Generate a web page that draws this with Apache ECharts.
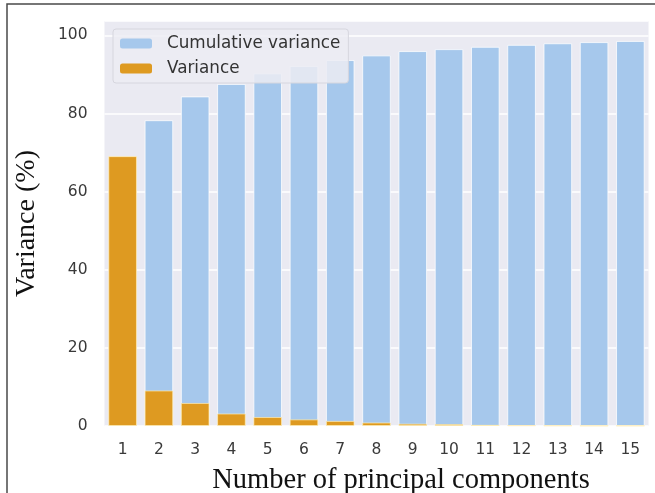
<!DOCTYPE html>
<html>
<head>
<meta charset="utf-8">
<script src="https://cdn.jsdelivr.net/npm/echarts@6/dist/echarts.min.js"></script>
<style>
  html, body { margin: 0; padding: 0; background: #ffffff; }
  #chart { width: 655px; height: 493px; }
</style>
</head>
<body>
<div id="chart"></div>
<script>
// Principal components 1..15
const components = ['1', '2', '3', '4', '5', '6', '7', '8', '9', '10', '11', '12', '13', '14', '15'];
// Cumulative explained variance (%)
const cumulativeVariance = [69.1, 78.3, 84.4, 87.6, 90.3, 92.2, 93.7, 94.9, 96.0, 96.5, 97.1, 97.6, 98.0, 98.3, 98.6];
// Explained variance per component (%)
const componentVariance = [69.1, 9.1, 5.9, 3.2, 2.3, 1.7, 1.3, 0.9, 0.6, 0.5, 0.3, 0.2, 0.15, 0.1, 0.1];
// Y-axis labelled ticks
const yTicks = [0, 20, 40, 60, 80, 100];

const tickFont = 'DejaVu Sans';
const titleFont = '"Liberation Serif", "Times New Roman", serif';

const chart = echarts.init(document.getElementById('chart'), null, { renderer: 'canvas' });

chart.setOption({
  animation: false,
  backgroundColor: '#ffffff',
  graphic: [{
    type: 'rect',
    shape: { x: 7, y: 4, width: 700, height: 540 },
    style: { fill: 'none', stroke: '#4a4a4a', lineWidth: 1.5 },
    z: 100,
    silent: true
  }],
  grid: {
    left: 104.5,
    right: 6.5,
    top: 21,
    bottom: 67,
    outerBoundsMode: 'none',
    containLabel: false,
    show: true,
    backgroundColor: '#EAEAF2',
    borderWidth: 0
  },
  legend: {
    left: 113,
    top: 29,
    orient: 'vertical',
    itemWidth: 32,
    itemHeight: 10,
    itemGap: 8,
    padding: [6, 8, 6, 7],
    backgroundColor: 'rgba(236,236,243,0.85)',
    borderColor: '#d6d6de',
    borderWidth: 1,
    borderRadius: 3,
    textStyle: { fontFamily: tickFont, fontSize: 16.8, color: '#333333', padding: [0, 0, 0, 10] },
    itemStyle: { borderWidth: 0 },
    data: ['Cumulative variance', 'Variance']
  },
  xAxis: {
    type: 'category',
    data: components,
    boundaryGap: true,
    axisLine: { show: false },
    axisTick: { show: false },
    axisLabel: { fontFamily: tickFont, fontSize: 15.5, color: '#3a3a3a', margin: 16 },
    splitLine: { show: false },
    name: 'Number of principal components',
    nameLocation: 'middle',
    nameGap: 40,
    nameTextStyle: { fontFamily: titleFont, fontSize: 28.5, color: '#111111', padding: [0, 0, 0, 49] }
  },
  yAxis: {
    type: 'value',
    min: 0,
    max: 103.7,
    interval: 20,
    axisLine: { show: false },
    axisTick: { show: false },
    axisLabel: {
      fontFamily: tickFont, fontSize: 15.5, color: '#3a3a3a', margin: 17,
      showMaxLabel: false,
      formatter: function (v) { return yTicks.indexOf(v) >= 0 ? String(v) : ''; }
    },
    splitLine: { show: true, lineStyle: { color: '#ffffff', width: 1.5 } },
    name: 'Variance (%)',
    nameLocation: 'middle',
    nameGap: 64,
    nameTextStyle: { fontFamily: titleFont, fontSize: 28, color: '#111111' }
  },
  series: [
    {
      name: 'Cumulative variance',
      type: 'bar',
      data: cumulativeVariance,
      barWidth: '79%',
      barGap: '-100%',
      itemStyle: { color: '#A6C8EC', borderColor: 'rgba(255,255,255,0.75)', borderWidth: 1 },
      z: 2
    },
    {
      name: 'Variance',
      type: 'bar',
      data: componentVariance,
      barWidth: '79%',
      itemStyle: { color: '#DE9A21', borderColor: 'rgba(255,236,180,0.7)', borderWidth: 1 },
      z: 3
    }
  ]
});
</script>
</body>
</html>
